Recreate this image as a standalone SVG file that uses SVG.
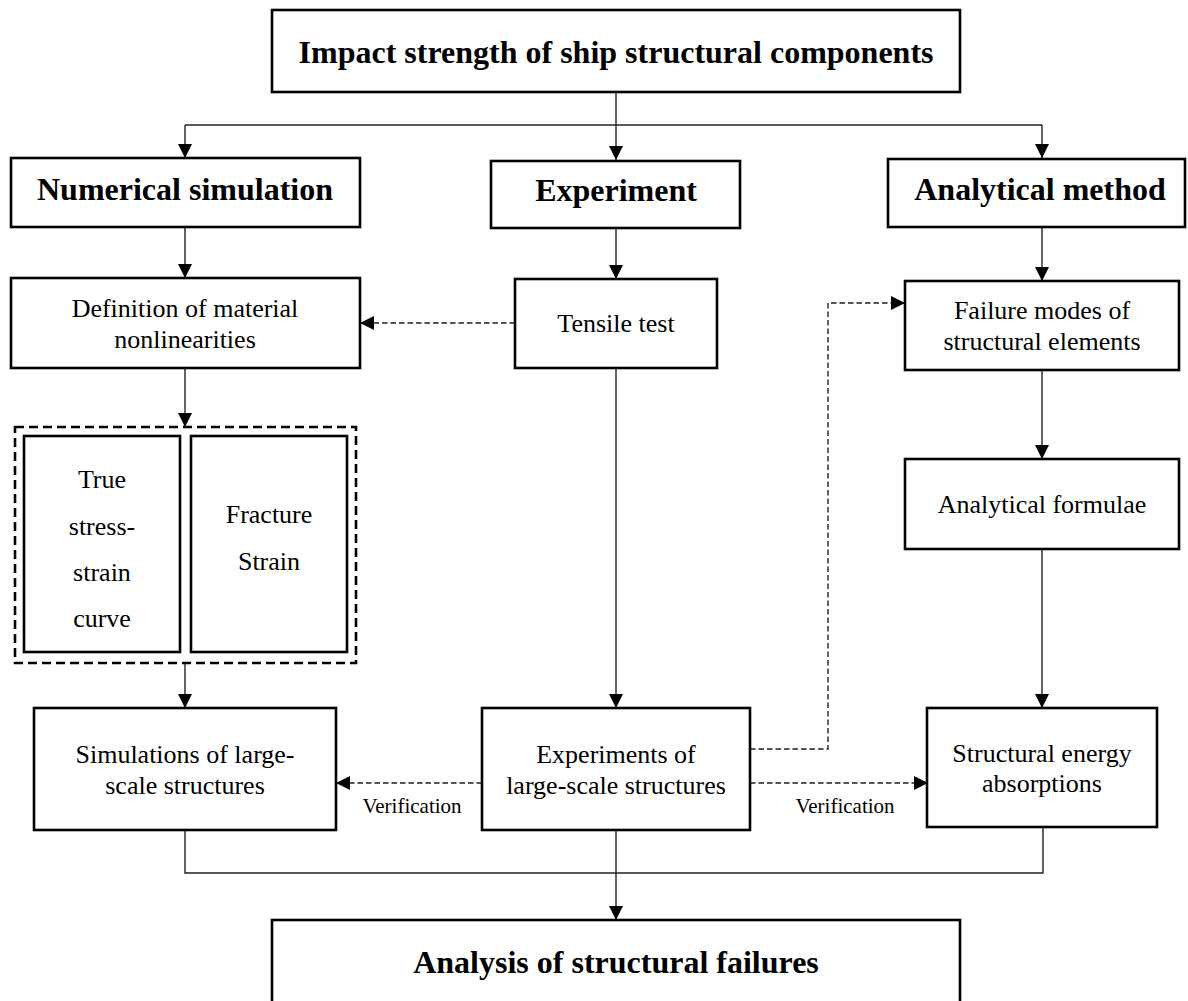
<svg xmlns="http://www.w3.org/2000/svg" width="1188" height="1001" viewBox="0 0 1188 1001">
<defs>
<marker id="ah" markerUnits="userSpaceOnUse" markerWidth="14" markerHeight="14" refX="14" refY="7" orient="auto"><path d="M0,0 L14,7 L0,14 Z" fill="#000"/></marker>
</defs>
<style>
.box{fill:#fff;stroke:#000;stroke-width:2.6}
.dbox{fill:none;stroke:#000;stroke-width:2.6;stroke-dasharray:9 5}
.ln{fill:none;stroke:#222;stroke-width:1.4}
.dl{fill:none;stroke:#222;stroke-width:1.4;stroke-dasharray:5.5 3}
text{font-family:"Liberation Serif","Times New Roman",serif;fill:#000;text-anchor:middle}
.b{font-weight:bold;font-size:32px}
.r{font-size:26px}
.s{font-size:21px}
</style>
<rect width="1188" height="1001" fill="#fff"/>
<g id="connectors">
<path class="ln" d="M616,92 V160" marker-end="url(#ah)"/>
<path class="ln" d="M185,125 H1042"/>
<path class="ln" d="M185,125 V158" marker-end="url(#ah)"/>
<path class="ln" d="M1042,125 V158" marker-end="url(#ah)"/>
<path class="ln" d="M185,227 V278" marker-end="url(#ah)"/>
<path class="ln" d="M616,228 V279" marker-end="url(#ah)"/>
<path class="ln" d="M1042,227 V281" marker-end="url(#ah)"/>
<path class="dl" d="M515,323 H360" marker-end="url(#ah)"/>
<path class="ln" d="M185,368 V427" marker-end="url(#ah)"/>
<path class="ln" d="M1042,370 V459" marker-end="url(#ah)"/>
<path class="ln" d="M616,368 V708" marker-end="url(#ah)"/>
<path class="ln" d="M185,663 V708" marker-end="url(#ah)"/>
<path class="ln" d="M1042,549 V708" marker-end="url(#ah)"/>
<path class="dl" d="M482,783 H336" marker-end="url(#ah)"/>
<path class="dl" d="M750,783 H928" marker-end="url(#ah)"/>
<path class="dl" d="M750,749 H828 V303 H905" marker-end="url(#ah)"/>
<path class="ln" d="M185,830 V873 H1043 V827"/>
<path class="ln" d="M616,830 V920" marker-end="url(#ah)"/>
<text class="s" x="412" y="813">Verification</text>
<text class="s" x="845" y="813">Verification</text>
</g>
<g id="top"><rect class="box" x="272" y="10" width="688" height="82"/><text class="b" x="616" y="63">Impact strength of ship structural components</text></g>
<g id="numerical"><rect class="box" x="11" y="158" width="349" height="69"/><text class="b" x="185" y="200">Numerical simulation</text></g>
<g id="experiment"><rect class="box" x="491" y="161" width="249" height="67"/><text class="b" x="616" y="201">Experiment</text></g>
<g id="analytical"><rect class="box" x="888" y="159" width="297" height="68"/><text class="b" x="1040" y="200">Analytical method</text></g>
<g id="definition"><rect class="box" x="11" y="278" width="349" height="90"/><text class="r" x="185" y="317">Definition of material</text><text class="r" x="185" y="348">nonlinearities</text></g>
<g id="tensile"><rect class="box" x="515" y="279" width="202" height="89"/><text class="r" x="616" y="332">Tensile test</text></g>
<g id="failure"><rect class="box" x="905" y="281" width="274" height="89"/><text class="r" x="1042" y="319">Failure modes of</text><text class="r" x="1042" y="350">structural elements</text></g>
<g id="material-group"><rect class="dbox" x="15" y="427" width="341" height="236"/></g>
<g id="true-curve"><rect class="box" x="24" y="436" width="156" height="216"/><text class="r" x="102" y="488">True</text><text class="r" x="102" y="535">stress-</text><text class="r" x="102" y="581">strain</text><text class="r" x="102" y="627">curve</text></g>
<g id="fracture"><rect class="box" x="191" y="436" width="156" height="216"/><text class="r" x="269" y="523">Fracture</text><text class="r" x="269" y="570">Strain</text></g>
<g id="formulae"><rect class="box" x="905" y="459" width="274" height="90"/><text class="r" x="1042" y="513">Analytical formulae</text></g>
<g id="simulations"><rect class="box" x="34" y="708" width="302" height="122"/><text class="r" x="185" y="763">Simulations of large-</text><text class="r" x="185" y="794">scale structures</text></g>
<g id="experiments"><rect class="box" x="482" y="708" width="268" height="122"/><text class="r" x="616" y="763">Experiments of</text><text class="r" x="616" y="794">large-scale structures</text></g>
<g id="energy"><rect class="box" x="927" y="708" width="230" height="119"/><text class="r" x="1042" y="762">Structural energy</text><text class="r" x="1042" y="792">absorptions</text></g>
<g id="analysis"><rect class="box" x="272" y="920" width="688" height="100"/><text class="b" x="616" y="973">Analysis of structural failures</text></g>
</svg>
